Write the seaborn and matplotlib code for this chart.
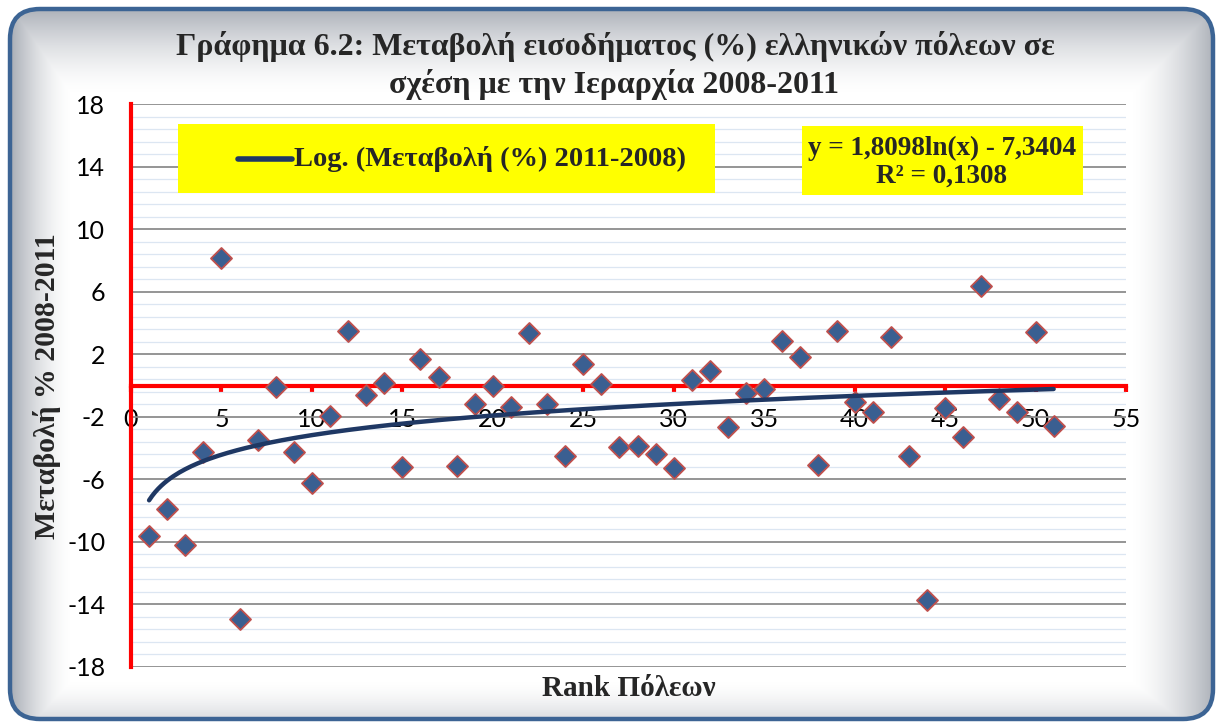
import numpy as np
import matplotlib
matplotlib.use("Agg")
import matplotlib.pyplot as plt
from matplotlib.patches import FancyBboxPatch, Rectangle
from matplotlib.lines import Line2D
import seaborn as sns
import pandas as pd

# City rank and income change (%) 2008-2011
rank = list(range(1, 52))
change = [-9.6, -7.9, -10.2, -4.23, 8.17, -14.9, -3.48, -0.12, -4.23, -6.23,
          -1.95, 3.5, -0.6, 0.18, -5.23, 1.67, 0.52, -5.15, -1.18, -0.02,
          -1.4, 3.38, -1.18, -4.51, 1.37, 0.08, -3.95, -3.87, -4.4, -5.25,
          0.35, 0.93, -2.68, -0.5, -0.24, 2.87, 1.84, -5.08, 3.5, -1.03,
          -1.67, 3.12, -4.51, -13.7, -1.46, -3.31, 6.38, -0.88, -1.67, 3.44,
          -2.59]

# Logarithmic trend line coefficients
log_coef = 1.8098
log_const = -7.3404
r_squared = 0.1308

x_ticks = list(range(0, 56, 5))
y_ticks = list(range(-18, 19, 4))

title_lines = ["Γράφημα 6.2: Μεταβολή εισοδήματος (%) ελληνικών πόλεων σε",
               "σχέση με την Ιεραρχία 2008-2011"]
x_label = "Rank Πόλεων"
y_label = "Μεταβολή % 2008-2011"
legend_label = "Log. (Μεταβολή (%) 2011-2008)"

sns.set_theme(style="white")
plt.rcParams["axes.unicode_minus"] = False
plt.rcParams["font.family"] = ["Lato", "DejaVu Sans"]

SERIF = ["Liberation Serif", "DejaVu Serif"]
MARKER_FILL = "#3A5F91"
MARKER_EDGE = "#C0504D"
TREND = "#1F3864"
AXIS_RED = "#FF0000"

W, H = 1217, 722
fig = plt.figure(figsize=(W / 100, H / 100), dpi=100)
fig.patch.set_facecolor("white")

# Background panel with rounded border and soft inner shading
bg = fig.add_axes([0, 0, 1, 1], zorder=-10)
bg.set_xlim(0, W)
bg.set_ylim(H, 0)
bg.axis("off")

frame_kw = dict(boxstyle="round,pad=0,rounding_size=30")
clip_box = FancyBboxPatch((10, 9), 1203, 710, facecolor="white",
                          edgecolor="none", **frame_kw)
bg.add_patch(clip_box)

yy, xx = np.mgrid[0:H, 0:W] + 0.5
top = np.clip(1 - (yy - 10) / 85, 0, 1) ** 1.6
left = np.clip(1 - (xx - 12) / 60, 0, 1) ** 1.6
right = np.clip((xx - 1130) / 83, 0, 1) ** 1.6
bottom = np.clip((yy - 680) / 40, 0, 1) ** 1.6
alpha = np.maximum.reduce([top * 0.75, left * 0.78, right * 0.75, bottom * 0.35])
shade = np.zeros((H, W, 4))
shade[..., 0] = 0.58
shade[..., 1] = 0.60
shade[..., 2] = 0.64
shade[..., 3] = alpha
im = bg.imshow(shade, extent=(0, W, H, 0), interpolation="bilinear", zorder=1)
im.set_clip_path(clip_box)
bg.add_patch(FancyBboxPatch((10, 9), 1203, 710, facecolor="none",
                            edgecolor="#3C6494", linewidth=3.2, zorder=2,
                            **frame_kw))

# Plot area
ax = fig.add_axes([131 / W, 1 - 667 / H, (1126 - 131) / W, (667 - 104) / H])
ax.set_facecolor("none")
ax.set_xlim(0, 55)
ax.set_ylim(-18, 18)
ax.set_axisbelow(True)

df = pd.DataFrame({"rank": rank, "change": change})
sns.scatterplot(data=df, x="rank", y="change", marker="D", s=115,
                color=MARKER_FILL, edgecolor=MARKER_EDGE, linewidth=1.3,
                ax=ax, zorder=3, legend=False)

x_fit = np.linspace(min(rank), max(rank), 300)
y_fit = log_coef * np.log(x_fit) + log_const
sns.lineplot(x=x_fit, y=y_fit, color=TREND, linewidth=3.2, ax=ax, zorder=4)

ax.set_xticks(x_ticks)
ax.set_yticks(y_ticks)
ax.set_yticks(np.arange(-18, 18.01, 0.8), minor=True)
ax.yaxis.grid(True, which="major", color="#8C8C8C", linewidth=1.3)
ax.yaxis.grid(True, which="minor", color="#DCE6F2", linewidth=0.9)
ax.xaxis.grid(False)

for side in ("top", "right"):
    ax.spines[side].set_visible(False)
ax.spines["left"].set_color(AXIS_RED)
ax.spines["left"].set_linewidth(3)
ax.spines["bottom"].set_color(AXIS_RED)
ax.spines["bottom"].set_linewidth(3)
ax.spines["bottom"].set_position(("data", 0))

ax.tick_params(axis="y", which="minor", left=False)
ax.tick_params(axis="y", which="major", direction="out", length=6.5, width=3,
               color=AXIS_RED, labelsize=18, pad=12, labelcolor="black")
ax.tick_params(axis="x", which="major", direction="out", length=4, width=3,
               color=AXIS_RED, labelsize=18, pad=12, labelcolor="black",
               bottom=True)
ax.set_xlabel("")
ax.set_ylabel("")

# Titles, axis labels, legend and equation boxes
ov = fig.add_axes([0, 0, 1, 1], zorder=10)
ov.set_xlim(0, W)
ov.set_ylim(H, 0)
ov.axis("off")
ov.patch.set_alpha(0)

ov.text(615, 47, title_lines[0], ha="center", va="center", fontsize=23,
        fontweight="bold", family=SERIF)
ov.text(614, 85, title_lines[1], ha="center", va="center", fontsize=23,
        fontweight="bold", family=SERIF)
ov.text(629, 689, x_label, ha="center", va="center", fontsize=21,
        fontweight="bold", family=SERIF)
ov.text(47, 386, y_label, ha="center", va="center", fontsize=21.5,
        fontweight="bold", family=SERIF, rotation=90)

ov.add_patch(Rectangle((178, 124), 537, 69, facecolor="#FFFF00",
                       edgecolor="none"))
ov.add_line(Line2D([238, 292], [159, 159], color=TREND, linewidth=4,
                   solid_capstyle="round"))
ov.text(294, 159, legend_label, ha="left", va="center", fontsize=20.5,
        fontweight="bold", family=SERIF)

ov.add_patch(Rectangle((802, 126), 281, 69, facecolor="#FFFF00",
                       edgecolor="none"))
eq_text = (f"y = {log_coef:.4f}ln(x) - {abs(log_const):.4f}".replace(".", ",")
           + "\n" + f"R² = {r_squared:.4f}".replace(".", ","))
ov.text(942, 162, eq_text, ha="center", va="center", fontsize=19.5,
        fontweight="bold", family=SERIF, linespacing=1.12)

fig.savefig("out.png", dpi=100, facecolor="white")
